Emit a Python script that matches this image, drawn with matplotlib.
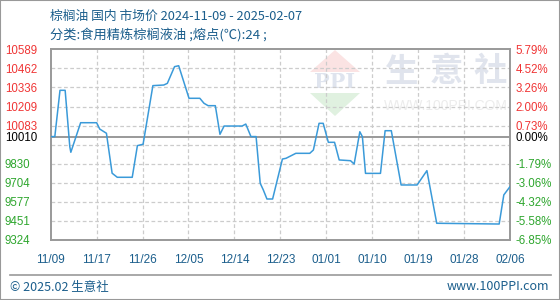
import numpy as np
import matplotlib
matplotlib.use('Agg')
import matplotlib.pyplot as plt
from matplotlib.patches import Polygon, Rectangle
from matplotlib.lines import Line2D

plt.rcParams['font.family'] = ['Noto Sans CJK SC', 'DejaVu Sans']

# price series (day offset from 2024-11-09, price in yuan/ton)
days = [0, 0.8, 1.8, 2.8, 3.7, 3.9, 5.8, 8.9, 9.5, 10.8, 11.9, 12.9,
        15.8, 16.8, 17.9, 19.8, 21.9, 22.6, 24.0, 24.8, 26.8, 28.9, 29.7, 30.5,
        31.9, 32.8, 33.6, 37.1, 37.8, 38.8, 39.8, 40.6, 41.2, 41.9, 43.0, 44.9,
        45.6, 47.5, 50.2, 50.9, 52.0, 52.8, 53.8, 55.0, 55.9, 58.1, 58.8, 59.9,
        60.4, 61.0, 63.9, 64.8, 66.0, 67.9, 71.0, 72.9, 74.8, 86.9, 87.8, 89.0]
prices = [10010, 10010, 10317, 10317, 9943, 9906, 10102, 10102, 10060, 10032, 9767, 9740,
          9740, 9950, 9959, 10348, 10352, 10363, 10474, 10480, 10264, 10264, 10231, 10215,
          10215, 10025, 10080, 10080, 10093, 10010, 10010, 9700, 9656, 9596, 9596, 9861,
          9866, 9899, 9899, 9921, 10098, 10098, 9972, 9972, 9855, 9850, 9828, 10042,
          10009, 9766, 9766, 10049, 10049, 9689, 9689, 9784, 9435, 9430, 9623, 9678]

base = 10010
y_ticks = [10589, 10462, 10336, 10209, 10083, 10010, 9830, 9704, 9577, 9451, 9324]
pct_labels = ['5.79%', '4.52%', '3.26%', '2.00%', '0.73%', '0.00%',
              '-1.79%', '-3.06%', '-4.32%', '-5.58%', '-6.85%']
x_labels = ['11/09', '11/17', '11/26', '12/05', '12/14', '12/23',
            '01/01', '01/10', '01/19', '01/28', '02/06']

W, H = 560, 300
fig = plt.figure(figsize=(W / 100, H / 100), dpi=100)
ax = fig.add_axes([50.7 / W, 1 - 240 / H, (510 - 50.7) / W, (240 - 49.3) / H])

def fx(x):
    return x / W

def fy(y):
    return 1 - y / H

num_font = 'Liberation Sans'

# watermark / logo
ax.add_patch(Polygon([[fx(335), fy(50)], [fx(310), fy(72)], [fx(360), fy(72)]],
                     closed=True, color='#fbe3e3', lw=0, transform=fig.transFigure, zorder=0))
ax.add_patch(Polygon([[fx(310), fy(93)], [fx(360), fy(93)], [fx(335), fy(116)]],
                     closed=True, color='#e0f1e0', lw=0, transform=fig.transFigure, zorder=0))
ax.text(fx(335), fy(82), 'PPI', transform=fig.transFigure, ha='center', va='center',
        fontsize=15, fontweight='bold', family='DejaVu Serif', color='#dfe4ee', zorder=0)
for ch, cx in zip(['生', '意', '社'], [402, 446, 490]):
    ax.text(fx(cx), fy(72), ch, transform=fig.transFigure, ha='center', va='center',
            fontsize=24, fontweight='bold', color='#e0e4ed', zorder=0)
ax.text(fx(446), fy(106), 'WWW.100PPI.COM', transform=fig.transFigure, ha='center',
        va='center', fontsize=10, color='#ececec', zorder=0, family=num_font)

# grid
ymin, ymax = 9324, 10589
for g in np.linspace(ymin, ymax, 11)[1:-1]:
    ax.axhline(g, color='#cccccc', lw=0.9, ls=(0, (3, 2)), zorder=1)
xt = np.linspace(0, 89, 11)
for g in xt[1:-1]:
    ax.axvline(g, color='#cccccc', lw=0.9, ls=(0, (3, 2)), zorder=1)
ax.axhline(base, color='#999999', lw=1.4, zorder=2)

ax.plot(days, prices, color='#3a9ad9', lw=1.1, zorder=3)

ax.set_xlim(0, 89)
ax.set_ylim(ymin, ymax)
for s in ax.spines.values():
    s.set_color('#999999')
    s.set_linewidth(1.4)

ax.set_xticks(xt)
ax.set_xticklabels(x_labels, fontsize=8.5, color='#1b5e8c', family=num_font)
ax.tick_params(axis='x', length=0, pad=10)

def ycolor(v):
    if v > base:
        return '#f03535'
    if v < base:
        return '#2ea62e'
    return '#000000'

ax.set_yticks(y_ticks)
ax.set_yticklabels([str(v) for v in y_ticks], fontsize=8.3, family=num_font)
ax.tick_params(axis='y', length=0, pad=33)
for lab, v in zip(ax.get_yticklabels(), y_ticks):
    lab.set_color(ycolor(v))
    lab.set_ha('left')

ax2 = ax.twinx()
ax2.set_ylim(ymin, ymax)
ax2.set_yticks(y_ticks)
ax2.set_yticklabels(pct_labels, fontsize=8.3, family=num_font)
ax2.tick_params(axis='y', length=0, pad=4)
for lab, v in zip(ax2.get_yticklabels(), y_ticks):
    lab.set_color(ycolor(v))
for s in ax2.spines.values():
    s.set_visible(False)

# titles
fig.text(fx(50), fy(16), '棕榈油 国内 市场价 2024-11-09 - 2025-02-07', fontsize=9.2,
         color='#1b5e8c', va='center', ha='left')
fig.text(fx(50), fy(35), '分类:食用精炼棕榈液油 ;熔点(℃):24 ;', fontsize=9.5,
         color='#1b5e8c', va='center', ha='left')

# footer
fig.add_artist(Line2D([fx(10), fx(551)], [fy(275), fy(275)], color='#999999', lw=1.2,
                      transform=fig.transFigure))
fig.text(fx(10), fy(287), '© 2025.02 生意社', fontsize=9, color='#1b5e8c',
         va='center', ha='left')
fig.text(fx(549), fy(287), 'www.100PPI.com', fontsize=9, color='#1b5e8c',
         va='center', ha='right')
fig.add_artist(Rectangle((0, 0), 1, 1, fill=False, ec='#999999', lw=1.5,
                         transform=fig.transFigure))

fig.savefig('out.png', dpi=100)
